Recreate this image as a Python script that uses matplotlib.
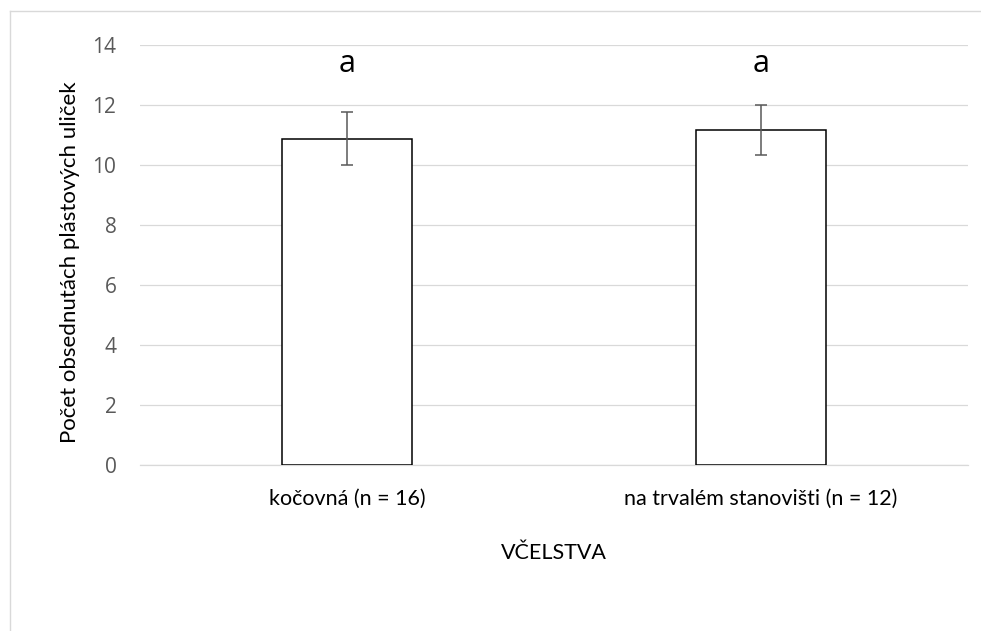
import matplotlib
matplotlib.use('Agg')
import matplotlib.pyplot as plt
from matplotlib.lines import Line2D

# data
categories = ['kočovná (n = 16)', 'na trvalém stanovišti (n = 12)']
means = [10.88, 11.17]
errors = [0.88, 0.83]
letters = ['a', 'a']
letter_y = 13.1

W, H = 981, 631
fig = plt.figure(figsize=(W / 100, H / 100), dpi=100)
ax = fig.add_axes([140 / W, 1 - 465 / H, 828 / W, 420 / H])

x = list(range(len(categories)))
ax.bar(x, means, width=0.315, color='white', edgecolor='black', linewidth=1.1, zorder=3)
ax.errorbar(x, means, yerr=errors, fmt='none', ecolor='#595959', elinewidth=1.1,
            capsize=4.2, capthick=1.1, zorder=4)

for i, t in enumerate(letters):
    ax.text(i, letter_y, t, ha='center', va='baseline', fontsize=22, family='Open Sans')

ax.set_xlim(-0.5, 1.5)
ax.set_ylim(0, 14)
ax.set_yticks(range(0, 15, 2))
ax.grid(axis='y', color='#d9d9d9', linewidth=0.9, zorder=0)
for s in ['top', 'right', 'left']:
    ax.spines[s].set_visible(False)
ax.spines['bottom'].set_color('#d9d9d9')
ax.spines['bottom'].set_linewidth(0.9)

ax.set_xticks(x)
ax.set_xticklabels(categories, fontsize=15.5, family='Lato')
ax.tick_params(axis='x', length=0, pad=17)
ax.tick_params(axis='y', length=0, pad=17, labelcolor='#595959', labelsize=15)
for lab in ax.get_yticklabels():
    lab.set_family('Open Sans')

ax.set_xlabel('VČELSTVA', fontsize=15.5, family='Lato')
ax.xaxis.set_label_coords(0.5, -0.185)

fig.text(70 / W, 1 - 262 / H, 'Počet obsednutách plástových uliček', rotation=90,
         ha='center', va='center', fontsize=16, family='Lato')

# outer chart border (only left and top visible)
fig.add_artist(Line2D([10 / W, 10 / W], [0, 1 - 11 / H], color='#d9d9d9', lw=1.0))
fig.add_artist(Line2D([10 / W, 1], [1 - 11 / H, 1 - 11 / H], color='#d9d9d9', lw=1.0))

fig.savefig('out.png', dpi=100)
